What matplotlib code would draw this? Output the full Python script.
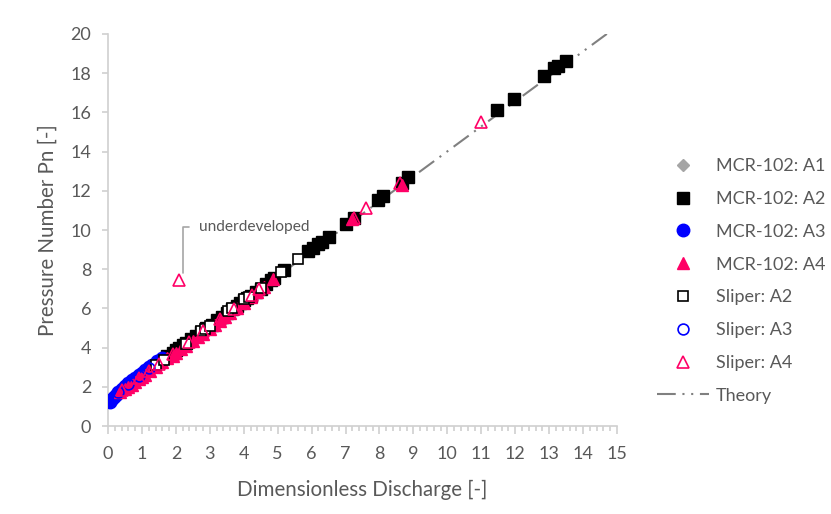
import matplotlib
matplotlib.use('Agg')
import matplotlib.pyplot as plt
from matplotlib.ticker import MultipleLocator

plt.rcParams['font.family'] = ['Lato', 'DejaVu Sans']

# measured series: dimensionless discharge (q) vs pressure number (pn)
mcr_a1_q = [0.2, 0.45, 0.7, 0.95]
mcr_a1_pn = [1.5, 1.85, 2.2, 2.5]

mcr_a2_q = [1.75, 1.9, 2.0, 2.1, 2.2, 2.3, 2.45, 2.6, 2.75, 2.9, 3.05, 3.2,
            3.35, 3.5, 3.65, 3.8, 3.9, 4.0, 4.1, 4.2, 4.35, 4.5, 4.65, 4.8,
            4.9, 5.2, 5.9, 6.05, 6.2, 6.3, 6.5, 7.0, 7.25, 7.95, 8.1, 8.65,
            8.85, 11.45, 11.95, 12.85, 13.15, 13.25, 13.5]
mcr_a2_pn = [3.6, 3.75, 3.9, 4.0, 4.15, 4.25, 4.45, 4.6, 4.8, 5.0, 5.15, 5.4,
             5.55, 5.75, 5.95, 6.15, 6.3, 6.45, 6.55, 6.65, 6.85, 7.0, 7.25, 7.45,
             7.55, 7.95, 8.95, 9.1, 9.3, 9.4, 9.65, 10.3, 10.6, 11.55, 11.75, 12.4,
             12.7, 16.1, 16.7, 17.85, 18.25, 18.35, 18.6]

mcr_a3_q = [0.05, 0.1, 0.15, 0.2, 0.25, 0.3, 0.4, 0.5, 0.6, 0.7, 0.8, 0.9,
            1.0, 1.1, 1.2, 1.3, 1.45, 1.6]
mcr_a3_pn = [1.25, 1.35, 1.45, 1.55, 1.65, 1.74, 1.9, 2.05, 2.2, 2.33, 2.47, 2.6,
             2.73, 2.87, 3.0, 3.12, 3.3, 3.48]

mcr_a4_q = [0.35, 0.5, 0.6, 0.7, 0.8, 0.9, 1.0, 1.1, 1.25, 1.4, 1.6, 1.75,
            1.9, 2.0, 2.15, 2.3, 2.5, 2.65, 2.8, 3.0, 3.15, 3.3, 3.45, 3.6,
            3.8, 4.0, 4.2, 4.4, 4.6, 4.85, 7.2, 8.65]
mcr_a4_pn = [1.75, 1.9, 2.0, 2.12, 2.25, 2.38, 2.5, 2.63, 2.8, 3.0, 3.25, 3.45,
             3.6, 3.75, 3.92, 4.1, 4.35, 4.52, 4.72, 4.97, 5.17, 5.38, 5.58, 5.78,
             6.03, 6.28, 6.58, 6.83, 7.08, 7.48, 10.55, 12.3]

sliper_a2_q = [1.4, 1.65, 2.3, 2.75, 2.85, 3.0, 3.55, 3.65, 4.0, 4.15, 4.5, 5.1, 5.6]
sliper_a2_pn = [3.1, 3.35, 4.2, 4.85, 4.95, 5.1, 5.85, 6.0, 6.5, 6.6, 7.05, 7.85, 8.5]

sliper_a3_q = [0.3, 0.6, 0.9, 1.2]
sliper_a3_pn = [1.72, 2.17, 2.57, 2.97]

sliper_a4_q = [0.4, 0.9, 1.2, 1.5, 1.9, 2.4, 2.8, 3.3, 3.7, 4.25, 4.45,
               7.25, 7.6, 8.6, 11.0, 2.1]
sliper_a4_pn = [1.84, 2.45, 2.8, 3.15, 3.7, 4.3, 4.85, 5.45, 5.95, 6.7, 7.0,
                10.6, 11.1, 12.4, 15.5, 7.45]

theory_q = [0.0, 14.7]
theory_pn = [1.27, 20.0]

pink = '#FF0066'
grey_text = '#595959'
axis_grey = '#D0D0D0'

fig = plt.figure(figsize=(8.31, 5.14), dpi=100)
ax = fig.add_axes([0.13, 0.171, 0.6125, 0.763])

ax.plot(theory_q, theory_pn, color='#808080', lw=1.5,
        dashes=(9, 3.2, 1, 3.2, 1, 3.2), label='Theory', zorder=1)

ax.plot(mcr_a1_q, mcr_a1_pn, ls='none', marker='D', ms=6.5, color='#A5A5A5',
        label='MCR-102: A1', zorder=2)
ax.plot(mcr_a2_q, mcr_a2_pn, ls='none', marker='s', ms=8.3, color='black',
        label='MCR-102: A2', zorder=3)
ax.plot(mcr_a3_q, mcr_a3_pn, ls='none', marker='o', ms=9, color='#0000FF',
        label='MCR-102: A3', zorder=3)
ax.plot(mcr_a4_q, mcr_a4_pn, ls='none', marker='^', ms=8.5, color=pink,
        label='MCR-102: A4', zorder=4)
ax.plot(sliper_a2_q, sliper_a2_pn, ls='none', marker='s', ms=7.8, mfc='white',
        mec='black', mew=1.2, label='Sliper: A2', zorder=5)
ax.plot(sliper_a3_q, sliper_a3_pn, ls='none', marker='o', ms=7.8, mfc='none',
        mec='#0000FF', mew=1.2, label='Sliper: A3', zorder=5)
ax.plot(sliper_a4_q, sliper_a4_pn, ls='none', marker='^', ms=8.5, mfc='none',
        mec=pink, mew=1.2, label='Sliper: A4', zorder=6)

ax.annotate('underdeveloped', xy=(2.21, 7.8), xytext=(2.68, 10.15),
            ha='left', va='center', fontsize=11.2, color=grey_text,
            arrowprops=dict(arrowstyle='-', color='#A6A6A6', lw=1.2,
                            connectionstyle='angle,angleA=0,angleB=90,rad=0',
                            relpos=(0, 0.5), shrinkA=5, shrinkB=0))

ax.set_xlim(0, 15)
ax.set_ylim(0, 20)
ax.xaxis.set_major_locator(MultipleLocator(1))
ax.xaxis.set_minor_locator(MultipleLocator(0.2))
ax.yaxis.set_major_locator(MultipleLocator(2))

for side in ['top', 'right']:
    ax.spines[side].set_visible(False)
for side in ['left', 'bottom']:
    ax.spines[side].set_color(axis_grey)
    ax.spines[side].set_linewidth(1.2)

ax.tick_params(axis='both', which='major', colors=axis_grey, labelcolor=grey_text,
               labelsize=13, width=1.2)
ax.tick_params(axis='x', which='major', length=6, pad=8)
ax.tick_params(axis='x', which='minor', length=3.5, width=1.2, colors=axis_grey)
ax.tick_params(axis='y', which='major', length=4, pad=8)

ax.set_xlabel('Dimensionless Discharge [-]', fontsize=14.8, color=grey_text, labelpad=13)
ax.set_ylabel('Pressure Number Pn [-]', fontsize=14.8, color=grey_text, labelpad=9)

handles, labels = ax.get_legend_handles_labels()
order = labels[1:] + labels[:1]
hmap = dict(zip(labels, handles))
leg = fig.legend([hmap[l] for l in order], order, loc='center left',
                 bbox_to_anchor=(648 / 831, 1 - 281 / 514), frameon=False,
                 fontsize=13, handlelength=2.9, handletextpad=0.35,
                 labelspacing=0.93, borderpad=0)
for t in leg.get_texts():
    t.set_color(grey_text)

fig.savefig('out.png', dpi=100)
